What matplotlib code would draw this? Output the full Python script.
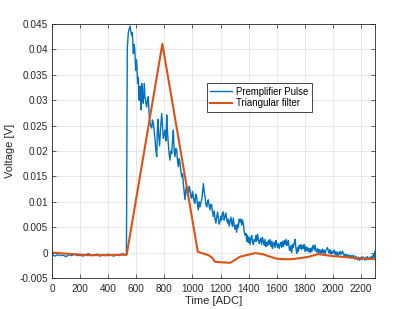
import matplotlib
matplotlib.use("Agg")
import matplotlib.pyplot as plt
from matplotlib.ticker import FuncFormatter

plt.rcParams['font.family'] = ['Liberation Sans', 'DejaVu Sans']

# ---------------- data ----------------
pulse_time = [0, 20, 40, 60, 80, 100, 120, 140, 160, 180, 200, 220, 240, 260, 280, 300, 320, 340, 360, 380,
              400, 420, 440, 460, 480, 500, 520, 530, 536,
              543, 549, 556, 561, 567, 571, 575, 579, 584, 589, 592, 596, 600, 603, 607, 610, 615, 620, 623, 627,
              631, 634, 639, 643, 647, 650, 654, 657, 662, 667, 670, 674, 680, 686, 690, 693, 698, 705, 710, 715,
              722, 728, 734, 740, 746, 750, 755, 760, 766, 772, 781, 787, 793, 799, 805, 811, 817, 822, 828, 834,
              840, 846, 853, 858, 864, 870, 876, 882, 888, 894, 900, 906, 912, 918, 924, 930, 935, 941, 947, 953,
              959, 965, 971, 977, 983, 989, 995, 1000, 1006, 1012, 1018, 1024, 1030, 1036, 1042, 1048, 1054, 1060,
              1066, 1072, 1078, 1084, 1090, 1096, 1102, 1108, 1113, 1119, 1125, 1131, 1137, 1143, 1149, 1155, 1161,
              1167, 1173, 1179, 1185, 1191, 1197, 1203, 1208, 1214, 1220, 1226, 1232, 1238, 1244, 1250, 1256, 1262,
              1268, 1274, 1280, 1285, 1291, 1297, 1303, 1309, 1315, 1321, 1327, 1333, 1339, 1345, 1351, 1357, 1363,
              1369, 1375, 1381, 1387, 1393, 1398, 1404, 1410, 1416, 1422, 1428, 1434, 1440, 1446, 1452, 1458, 1464,
              1470, 1476, 1481, 1487, 1493, 1499, 1505, 1511, 1517, 1523, 1529, 1535, 1541, 1547, 1553, 1559, 1565,
              1570, 1576, 1582, 1588, 1594, 1600, 1606, 1612, 1618, 1624, 1630, 1636, 1642, 1648, 1654, 1660, 1666,
              1672, 1678, 1683, 1689, 1695, 1701, 1707, 1713, 1719, 1725, 1731, 1737, 1743, 1749, 1754, 1760, 1766,
              1772, 1778, 1784, 1790, 1796, 1802, 1808, 1814, 1820, 1826, 1832, 1838, 1844, 1850, 1856, 1861, 1867,
              1873, 1879, 1885, 1891, 1897, 1903, 1909, 1915, 1921, 1926, 1932, 1938, 1944, 1950, 1957, 1962, 1968,
              1974, 1980, 1986, 1992, 1998, 2004, 2010, 2016, 2022, 2028, 2034, 2039, 2045, 2051, 2057, 2063, 2069,
              2075, 2081, 2087, 2093, 2099, 2105, 2111, 2117, 2123, 2129, 2135, 2141, 2146, 2152, 2158, 2164, 2170,
              2176, 2182, 2188, 2194, 2200, 2206, 2212, 2217, 2223, 2229, 2235, 2241, 2247, 2253, 2259, 2265, 2271,
              2277, 2283, 2289, 2295, 2300]
pulse_voltage = [-0.0003, -0.0007, -0.0004, -0.0006, -0.0005, -0.0008, -0.0004, -0.0006, -0.0003, -0.0006,
                 -0.0005, -0.0007, -0.0004, -0.0002, -0.0006, -0.0005, -0.0003, -0.0007, -0.0004, -0.0006,
                 -0.0003, -0.0005, -0.0007, -0.0004, -0.0006, -0.0002, -0.0005, -0.0004, 0.0400,
                 0.0432, 0.0440, 0.0446, 0.0436, 0.0428, 0.0433, 0.0419, 0.0392, 0.0410, 0.0402, 0.0385, 0.0359,
                 0.0380, 0.0376, 0.0350, 0.0333, 0.0345, 0.0300, 0.0320, 0.0327, 0.0295, 0.0281, 0.0333, 0.0314,
                 0.0300, 0.0294, 0.0318, 0.0333, 0.0305, 0.0300, 0.0292, 0.0287, 0.0300, 0.0307, 0.0280, 0.0268,
                 0.0255, 0.0248, 0.0245, 0.0261, 0.0255, 0.0238, 0.0222, 0.0200, 0.0189, 0.0240, 0.0262, 0.0230,
                 0.0210, 0.0240, 0.0274, 0.0250, 0.0225, 0.0232, 0.0241, 0.0220, 0.0271, 0.0240, 0.0215, 0.0195,
                 0.0182, 0.0200, 0.0195, 0.0220, 0.0241, 0.0200, 0.0189, 0.0205, 0.0202, 0.0180, 0.0169, 0.0185,
                 0.0176, 0.0160, 0.0149, 0.0155, 0.0136, 0.0120, 0.0104, 0.0125, 0.0130, 0.0112, 0.0117, 0.0130,
                 0.0123, 0.0110, 0.0107, 0.0120, 0.0113, 0.0100, 0.0097, 0.0115, 0.0110, 0.0095, 0.0084, 0.0100,
                 0.0090, 0.0098, 0.0104, 0.0120, 0.0136, 0.0118, 0.0110, 0.0095, 0.0090, 0.0100, 0.0104, 0.0092,
                 0.0084, 0.0095, 0.0094, 0.0080, 0.0071, 0.0082, 0.0066, 0.0058, 0.0070, 0.0080, 0.0068, 0.0056,
                 0.0062, 0.0072, 0.0064, 0.0078, 0.0080, 0.0064, 0.0070, 0.0078, 0.0066, 0.0058, 0.0066, 0.0052,
                 0.0062, 0.0070, 0.0058, 0.0052, 0.0068, 0.0054, 0.0046, 0.0054, 0.0040, 0.0056, 0.0050, 0.0066,
                 0.0060, 0.0066, 0.0054, 0.0064, 0.0056, 0.0040, 0.0034, 0.0038, 0.0022, 0.0034, 0.0020, 0.0030,
                 0.0016, 0.0028, 0.0034, 0.0020, 0.0016, 0.0026, 0.0022, 0.0034, 0.0022, 0.0036, 0.0026, 0.0018,
                 0.0024, 0.0028, 0.0016, 0.0030, 0.0022, 0.0014, 0.0026, 0.0012, 0.0020, 0.0014, 0.0024, 0.0016,
                 0.0026, 0.0012, 0.0022, 0.0008, 0.0016, 0.0020, 0.0010, 0.0024, 0.0016, 0.0010, 0.0018, 0.0008,
                 0.0016, 0.0020, 0.0010, 0.0022, 0.0012, 0.0024, 0.0016, 0.0026, 0.0014, 0.0018, 0.0024, 0.0008,
                 0.0004, 0.0014, 0.0000, 0.0016, 0.0010, 0.0020, 0.0026, 0.0008, -0.0002, 0.0010, 0.0002, 0.0014,
                 0.0008, 0.0016, 0.0006, 0.0014, 0.0008, 0.0016, 0.0002, 0.0012, 0.0004, 0.0010, 0.0002, 0.0008,
                 0.0000, 0.0009, 0.0002, 0.0012, 0.0014, 0.0005, 0.0015, 0.0004, 0.0001, 0.0008, 0.0000, 0.0006,
                 -0.0002, 0.0005, -0.0001, 0.0007, 0.0000, 0.0005, -0.0003, 0.0004, 0.0007, 0.0010, 0.0003, -0.0001,
                 0.0006, -0.0003, 0.0003, -0.0002, 0.0001, 0.0005, -0.0004, 0.0002, -0.0005, 0.0001, -0.0006,
                 -0.0001, 0.0002, -0.0004, 0.0000, 0.0003, -0.0003, -0.0006, -0.0003, -0.0007, -0.0004, -0.0008,
                 -0.0005, -0.0009, -0.0005, -0.0011, -0.0006, -0.0010, -0.0005, -0.0010, -0.0013, -0.0007, -0.0012,
                 -0.0014, -0.0009, -0.0015, -0.0010, -0.0014, -0.0008, -0.0013, -0.0009, -0.0012, -0.0015, -0.0009,
                 -0.0014, -0.0008, -0.0013, -0.0014, -0.0009, -0.0012, -0.0007, -0.0009, -0.0004, -0.0010, 0.0003]

filter_time = [0, 100, 200, 250, 400, 532, 786, 1038, 1054, 1080, 1113, 1140, 1161, 1200, 1268, 1300, 1339,
               1400, 1446, 1500, 1553, 1600, 1648, 1700, 1766, 1830, 1895, 1950, 2001, 2100, 2170, 2300]
filter_voltage = [0.0000, -0.0002, -0.0004, -0.0005, -0.0005, -0.0004, 0.0411, 0.0002, 0.0000, -0.0002,
                  -0.0005, -0.0010, -0.0018, -0.0019, -0.0020, -0.0015, -0.0008, -0.0004, -0.0001, -0.0003,
                  -0.0008, -0.0012, -0.0013, -0.0013, -0.0011, -0.0008, -0.0003, -0.0005, -0.0007, -0.0009,
                  -0.0011, -0.0013]

series_labels = ['Premplifier Pulse', 'Triangular filter']
x_ticks = list(range(0, 2201, 200))
y_ticks = [-0.005, 0, 0.005, 0.01, 0.015, 0.02, 0.025, 0.03, 0.035, 0.04, 0.045]

# ---------------- plot ----------------
fig = plt.figure(figsize=(4.15, 3.09), dpi=100)
ax = fig.add_axes([0.1253, 0.1003, 0.7783, 0.8220])

ax.plot(pulse_time, pulse_voltage, color='#0072BD', lw=1.0, label=series_labels[0])
ax.plot(filter_time, filter_voltage, color='#D95319', lw=1.5, label=series_labels[1])

ax.set_xlim(0, 2300)
ax.set_ylim(-0.005, 0.045)
ax.set_xticks(x_ticks)
ax.set_yticks(y_ticks)
ax.yaxis.set_major_formatter(FuncFormatter(lambda v, p: '0' if abs(v) < 1e-12 else ('%g' % round(v, 4))))

ax.grid(True, color='#e3e3e3', lw=0.6)
ax.set_axisbelow(True)
for s in ax.spines.values():
    s.set_color('#262626')
    s.set_linewidth(0.6)
ax.tick_params(direction='in', top=True, right=True, length=3, width=0.5,
               colors='#262626', labelsize=7.2, pad=3)
ax.tick_params(axis='x', pad=4)

ax.set_xlabel('Time [ADC]', fontsize=8, color='#262626', labelpad=2)
ax.set_ylabel('Voltage [V]', fontsize=8, color='#262626', labelpad=3)

leg = ax.legend(loc='upper left', bbox_to_anchor=(0.48, 0.767), fontsize=6.9,
                frameon=True, fancybox=False, edgecolor='#262626', framealpha=1,
                handlelength=2.3, handletextpad=0.4, borderpad=0.35, labelspacing=0.2,
                borderaxespad=0)
leg.get_frame().set_linewidth(0.6)

fig.savefig('out.png', dpi=100)
